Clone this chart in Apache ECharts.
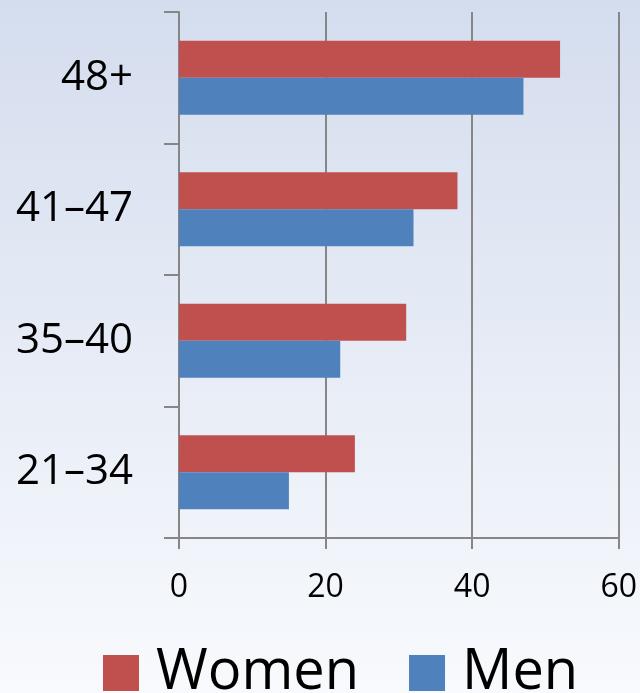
<!DOCTYPE html>
<html>
<head>
<meta charset="utf-8">
<script src="https://cdn.jsdelivr.net/npm/echarts@6/dist/echarts.min.js"></script>
<style>
  html, body { margin: 0; padding: 0; }
  #main { width: 640px; height: 693px; }
</style>
</head>
<body>
<div id="main"></div>
<script>
// 数据
var categories = ['21–34', '35–40', '41–47', '48+'];
var women = [24, 31, 38, 52];
var men = [15, 22, 32, 47];
var xTicks = [0, 20, 40, 60];

var font = '"Open Sans", "Noto Sans", sans-serif';

function renderChart() {
  var container = document.getElementById('main');
  var myChart = echarts.init(container);
  var options = {
    backgroundColor: {
      type: 'linear', x: 0, y: 0, x2: 0, y2: 1,
      colorStops: [
        { offset: 0, color: '#d4ddee' },
        { offset: 1, color: '#f8fafd' }
      ]
    },
    animation: false,
    grid: {
      left: 179,
      right: 21,
      top: 12,
      bottom: 155
    },
    legend: {
      data: ['Women', 'Men'],
      bottom: -13,
      left: 98,
      itemWidth: 36,
      itemHeight: 36,
      itemGap: 50,
      icon: 'rect',
      textStyle: { fontSize: 56, color: '#000', fontFamily: font, padding: [0, 0, 0, 12] }
    },
    xAxis: {
      type: 'value',
      min: xTicks[0],
      max: xTicks[xTicks.length - 1],
      interval: 20,
      axisLine: { show: true, lineStyle: { color: '#868686', width: 2 } },
      axisTick: { show: true, length: 11, lineStyle: { color: '#868686', width: 2 } },
      splitLine: { show: true, lineStyle: { color: '#868686', width: 2 } },
      axisLabel: { fontSize: 32, color: '#000', fontFamily: font, margin: 34 }
    },
    yAxis: {
      type: 'category',
      data: categories,
      axisLine: { show: true, lineStyle: { color: '#868686', width: 2 } },
      axisTick: { show: true, length: 15, lineStyle: { color: '#868686', width: 2 } },
      axisLabel: { fontSize: 42, color: '#000', fontFamily: font, margin: 46 }
    },
    series: [{
      name: 'Women',
      type: 'bar',
      data: women,
      barWidth: 37,
      barGap: '0%',
      itemStyle: { color: '#c0504d' }
    }, {
      name: 'Men',
      type: 'bar',
      data: men,
      barWidth: 37,
      barGap: '0%',
      itemStyle: { color: '#4f81bd' }
    }]
  };
  myChart.setOption(options, true);
}

renderChart();
</script>
</body>
</html>
